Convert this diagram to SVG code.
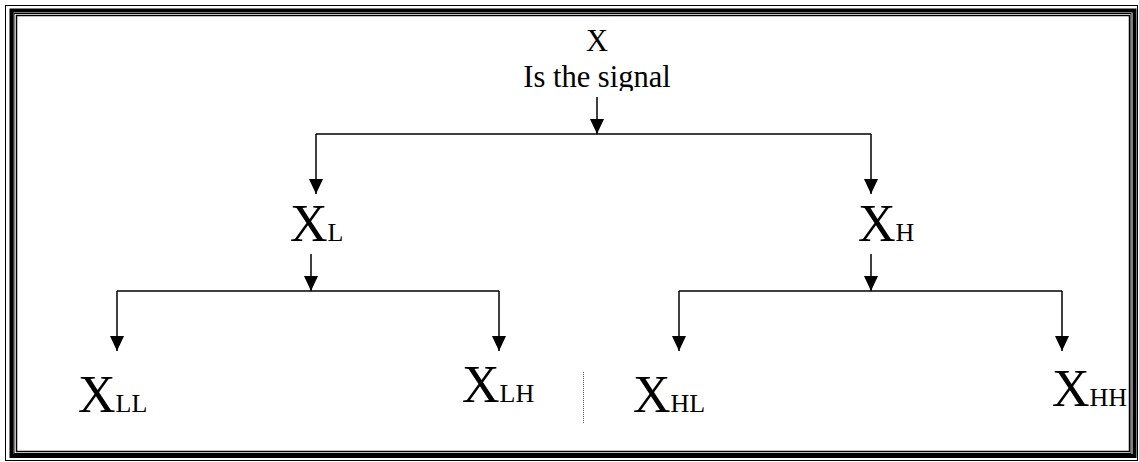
<svg xmlns="http://www.w3.org/2000/svg" width="1139" height="462" viewBox="0 0 1139 462">
<style>
.frame{fill:none;stroke:#000}
.c{fill:none;stroke:#000;stroke-width:1.5}
.t{font-family:"Liberation Serif","Times New Roman",serif;fill:#000}
.top{font-size:30.5px}
.big{font-size:52px}
.sub{font-size:26px}
</style>
<defs>
<marker id="ah" markerUnits="userSpaceOnUse" markerWidth="15" markerHeight="14" viewBox="0 0 15 14" refX="15" refY="7" orient="auto">
<path d="M0,0 L15,7 L0,14 Z" fill="#000"/>
</marker>
<clipPath id="cl"><rect x="500" y="20" width="200" height="71"/></clipPath>
</defs>
<rect width="1139" height="462" fill="#fff"/>
<g id="border">
<rect class="frame" x="5.5" y="5.5" width="1132" height="455" stroke-width="1"/>
<rect class="frame" x="11.5" y="10.5" width="1123" height="445.5" stroke-width="4"/>
<rect class="frame" x="14" y="13.5" width="1117" height="440" stroke="#888" stroke-width="1"/>
<rect class="frame" x="16.5" y="15.5" width="1113" height="436" stroke-width="1.5"/>
</g>
<g id="connectors">
<line class="c" x1="597" y1="97" x2="597" y2="134" marker-end="url(#ah)"/>
<line class="c" x1="316" y1="134" x2="871" y2="134"/>
<line class="c" x1="316" y1="134" x2="316" y2="194" marker-end="url(#ah)"/>
<line class="c" x1="871" y1="134" x2="871" y2="194" marker-end="url(#ah)"/>
<line class="c" x1="311" y1="254" x2="311" y2="291" marker-end="url(#ah)"/>
<line class="c" x1="117" y1="291" x2="499" y2="291"/>
<line class="c" x1="117" y1="291" x2="117" y2="351" marker-end="url(#ah)"/>
<line class="c" x1="499" y1="291" x2="499" y2="351" marker-end="url(#ah)"/>
<line class="c" x1="871" y1="254" x2="871" y2="291" marker-end="url(#ah)"/>
<line class="c" x1="679" y1="291" x2="1062" y2="291"/>
<line class="c" x1="679" y1="291" x2="679" y2="351" marker-end="url(#ah)"/>
<line class="c" x1="1062" y1="291" x2="1062" y2="351" marker-end="url(#ah)"/>
<line x1="583.5" y1="372" x2="583.5" y2="423" stroke="#555" stroke-width="1" stroke-dasharray="1,1"/>
</g>
<g id="node-x">
<text class="t top" x="597" y="51" text-anchor="middle">X</text>
<text class="t top" x="597" y="87" text-anchor="middle" clip-path="url(#cl)">Is the signal</text>
</g>
<g id="node-xl"><text class="t big" x="290" y="241">X<tspan class="sub">L</tspan></text></g>
<g id="node-xh"><text class="t big" x="858" y="241">X<tspan class="sub">H</tspan></text></g>
<g id="node-xll"><text class="t big" x="78" y="412">X<tspan class="sub">LL</tspan></text></g>
<g id="node-xlh"><text class="t big" x="462" y="402">X<tspan class="sub">LH</tspan></text></g>
<g id="node-xhl"><text class="t big" x="633" y="412">X<tspan class="sub">HL</tspan></text></g>
<g id="node-xhh"><text class="t big" x="1052" y="406">X<tspan class="sub">HH</tspan></text></g>
</svg>
